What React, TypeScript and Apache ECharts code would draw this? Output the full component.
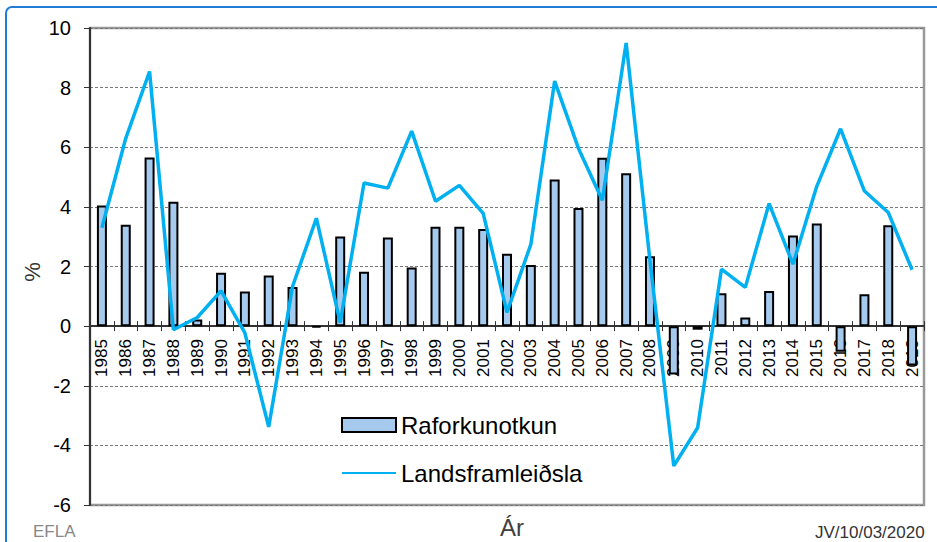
import React, { useEffect, useRef } from "react";
import * as echarts from "echarts";

const years = [
  "1985", "1986", "1987", "1988", "1989", "1990", "1991", "1992", "1993", "1994",
  "1995", "1996", "1997", "1998", "1999", "2000", "2001", "2002", "2003", "2004",
  "2005", "2006", "2007", "2008", "2009", "2010", "2011", "2012", "2013", "2014",
  "2015", "2016", "2017", "2018", "2019",
];

// Raforkunotkun (%)
const electricity = [
  4.05, 3.4, 5.66, 4.17, 0.22, 1.79, 1.16, 1.7, 1.31, -0.05,
  3.01, 1.82, 2.97, 1.97, 3.33, 3.33, 3.26, 2.43, 2.05, 4.92,
  3.96, 5.65, 5.13, 2.34, -1.62, -0.12, 1.1, 0.29, 1.18, 3.04,
  3.44, -0.86, 1.07, 3.38, -1.32,
];

// Landsframleiðsla (%)
const gdp = [
  3.3, 6.3, 8.54, -0.12, 0.29, 1.18, -0.23, -3.38, 1.33, 3.62,
  0.12, 4.8, 4.63, 6.54, 4.19, 4.72, 3.78, 0.46, 2.74, 8.22,
  5.96, 4.22, 9.5, 2.2, -4.69, -3.41, 1.91, 1.3, 4.11, 2.08,
  4.69, 6.62, 4.53, 3.81, 1.89,
];

const yTicks = { min: -6, max: 10, interval: 2 };

const FONT = 'Arial, "Liberation Sans", sans-serif';

const GRID_TOP = 28;
const GRID_BOTTOM = 37;
const CHART_H = 542;

export default function App() {
  const ref = useRef<HTMLDivElement>(null);

  useEffect(() => {
    if (!ref.current) return;
    const chart = echarts.init(ref.current, null, { renderer: "svg" });
    // place the category axis on the zero line of the value axis
    const gridH = CHART_H - GRID_TOP - GRID_BOTTOM;
    const zeroOffset = -gridH * (0 - yTicks.min) / (yTicks.max - yTicks.min);
    chart.setOption({
      animation: false,
      backgroundColor: "#ffffff",
      textStyle: { fontFamily: FONT },
      grid: {
        left: 90,
        right: 13,
        top: GRID_TOP,
        bottom: GRID_BOTTOM,
        show: true,
        borderColor: "#999999",
        borderWidth: 2.5,
        backgroundColor: "transparent",
        containLabel: false,
        outerBoundsMode: "none",
      },
      legend: {
        orient: "vertical",
        left: 336,
        top: 408,
        itemWidth: 54,
        itemHeight: 14,
        itemGap: 24,
        textStyle: { fontSize: 24, color: "#000", fontFamily: FONT },
        data: [
          { name: "Raforkunotkun", icon: "rect" },
          { name: "Landsframleiðsla", itemStyle: { opacity: 0 } },
        ],
      },
      xAxis: [
        {
          type: "category",
          data: years,
          position: "bottom",
          offset: zeroOffset,
          axisLine: { onZero: false, lineStyle: { color: "#333", width: 2 } },
          axisTick: { show: true, interval: 0, length: 5, lineStyle: { color: "#333", width: 1 } },
          axisLabel: { interval: 0, rotate: 90, fontSize: 17, color: "#000", margin: 13, fontFamily: FONT },
          splitLine: { show: false },
          z: 1,
        },
        {
          type: "category",
          data: years,
          position: "bottom",
          offset: zeroOffset,
          axisLine: { onZero: false, show: false },
          axisTick: { show: true, inside: true, interval: 0, length: 5, lineStyle: { color: "#333", width: 1 } },
          axisLabel: { show: false },
          splitLine: { show: false },
          z: 1,
        },
      ],
      yAxis: {
        type: "value",
        min: yTicks.min,
        max: yTicks.max,
        interval: yTicks.interval,
        axisLine: { show: true, lineStyle: { color: "#333", width: 2 } },
        axisTick: { show: true, length: 6, lineStyle: { color: "#333", width: 1 } },
        axisLabel: { fontSize: 20, color: "#000", margin: 19, fontFamily: FONT },
        splitLine: { show: true, lineStyle: { type: [3, 2], color: "#777", width: 1 } },
      },
      series: [
        {
          name: "Raforkunotkun",
          type: "bar",
          data: electricity,
          barWidth: 10,
          itemStyle: { color: "#A6C9EE", borderColor: "#000", borderWidth: 2 },
          z: 2,
        },
        {
          name: "Landsframleiðsla",
          type: "line",
          data: gdp,
          symbol: "none",
          lineStyle: { color: "#00B0F0", width: 3.5 },
          itemStyle: { color: "#00B0F0" },
          z: 3,
        },
      ],
      graphic: [
        {
          type: "rect",
          shape: { x: 6, y: 7, width: 945, height: 560, r: 6 },
          style: { fill: "none", stroke: "#1F7BD6", lineWidth: 2 },
          silent: true,
        },
        {
          type: "text",
          x: 32,
          y: 272,
          rotation: Math.PI / 2,
          style: { text: "%", font: `22px ${FONT}`, fill: "#333", align: "center", verticalAlign: "middle" },
        },
        {
          type: "text",
          x: 512,
          y: 527,
          style: { text: "Ár", font: `24px ${FONT}`, fill: "#404040", align: "center", verticalAlign: "middle" },
        },
        {
          type: "text",
          x: 33,
          y: 531,
          style: { text: "EFLA", font: `17px ${FONT}`, fill: "#888", align: "left", verticalAlign: "middle" },
        },
        {
          type: "text",
          x: 815,
          y: 532,
          style: { text: "JV/10/03/2020", font: `17px ${FONT}`, fill: "#333", align: "left", verticalAlign: "middle" },
        },
      ],
    });
    return () => chart.dispose();
  }, []);

  return (
    <div
      ref={ref}
      style={{ position: "fixed", left: 0, top: 0, width: 937, height: 542, background: "#fff" }}
    />
  );
}
